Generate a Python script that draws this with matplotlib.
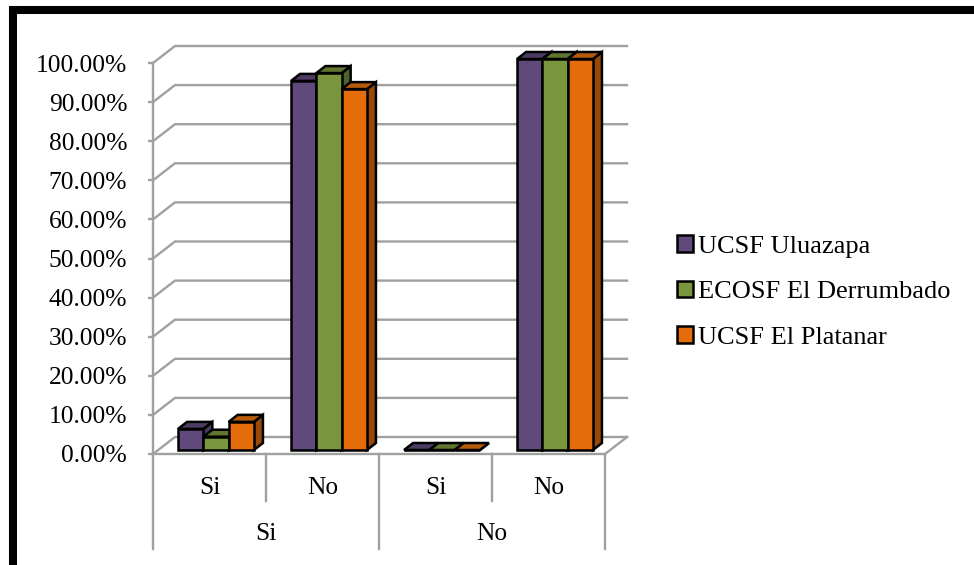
import matplotlib
matplotlib.use('Agg')
import matplotlib.pyplot as plt
from matplotlib.patches import Patch, Polygon, Rectangle

plt.rcParams['font.family'] = ['Liberation Serif', 'DejaVu Sans']

series_names = ['UCSF Uluazapa', 'ECOSF El Derrumbado', 'UCSF El Platanar']
inner_labels = ['Si', 'No', 'Si', 'No']
outer_labels = ['Si', 'No']
uluazapa = [5.4, 94.4, 0.0, 100.0]
derrumbado = [3.4, 96.4, 0.0, 100.0]
platanar = [7.2, 92.3, 0.0, 100.0]
y_ticks = [0, 10, 20, 30, 40, 50, 60, 70, 80, 90, 100]

series_values = [uluazapa, derrumbado, platanar]
front_colors = ['#604A7B', '#7A963C', '#E46C0A']
top_colors = ['#4D3B63', '#5F7530', '#B65A0C']
side_colors = ['#4A3960', '#4F6228', '#984807']
grid_color = '#A0A0A0'
edge_lw = 1.8
grid_lw = 1.7

W, H = 974, 565
fig = plt.figure(figsize=(W / 100, H / 100), dpi=100)
x0, x1, y0, y1 = 153, 605, 454, 63
ax = fig.add_axes([x0 / W, 1 - y0 / H, (x1 - x0) / W, (y0 - y1) / H])
ax.set_xlim(0, 4)
ax.set_ylim(0, 100)

# pixel sizes in data units
px = 4 / (x1 - x0)
py = 100 / (y0 - y1)
wall_dx, wall_dy = 22 * px, 17 * py
bar_dx, bar_dy = 9 * px, 7 * py
bar_w = 25.3 * px
bar_base = 4 * py
bar_shift = 6.5 * px

for t in y_ticks:
    ax.plot([0, wall_dx, 4 + wall_dx], [t, t + wall_dy, t + wall_dy], color=grid_color, lw=grid_lw,
            clip_on=False, zorder=1, solid_joinstyle='miter')
ax.plot([0, 4, 4 + wall_dx], [0, 0, wall_dy], color=grid_color, lw=grid_lw, clip_on=False, zorder=1)

for i in range(4):
    for j, vals in enumerate(series_values):
        v = vals[i]
        x = i + 0.5 + bar_shift + (j - 1) * bar_w
        left, right = x - bar_w / 2, x + bar_w / 2
        top = bar_base + v
        ax.add_patch(Polygon([(right, bar_base), (right + bar_dx, bar_base + bar_dy),
                              (right + bar_dx, top + bar_dy), (right, top)],
                             fc=side_colors[j], ec='black', lw=edge_lw, clip_on=False, zorder=3))
        ax.add_patch(Polygon([(left, top), (left + bar_dx, top + bar_dy),
                              (right + bar_dx, top + bar_dy), (right, top)],
                             fc=top_colors[j], ec='black', lw=edge_lw, clip_on=False, zorder=3))
        ax.bar(x, v, bar_w, bottom=bar_base, color=front_colors[j], edgecolor='black', lw=edge_lw,
               clip_on=False, zorder=3)

for s in ['top', 'right', 'bottom']:
    ax.spines[s].set_visible(False)
ax.spines['left'].set_color(grid_color)
ax.spines['left'].set_linewidth(grid_lw)
ax.set_xticks([])
ax.set_yticks(y_ticks)
ax.set_yticklabels([f'{t:.2f}%' for t in y_ticks], fontsize=18.4)
ax.tick_params(axis='y', length=3.6, width=grid_lw, color=grid_color, pad=15)

# two level category axis
for i, lab in enumerate(inner_labels):
    ax.text(i + 0.5, -34 * py, lab, ha='center', va='center', fontsize=18.4)
    ax.plot([i, i], [0, (-47 if i % 2 else -95) * py], color=grid_color, lw=grid_lw, clip_on=False, zorder=1)
ax.plot([4, 4], [0, -95 * py], color=grid_color, lw=grid_lw, clip_on=False, zorder=1)
for i, lab in enumerate(outer_labels):
    ax.text(2 * i + 1, -80 * py, lab, ha='center', va='center', fontsize=18.4)

handles = [Patch(fc=c, ec='black', lw=edge_lw) for c in front_colors]
fig.legend(handles, series_names, loc='center left', bbox_to_anchor=(677 / W, 1 - 292 / H),
           frameon=False, fontsize=19, handlelength=0.6, handleheight=0.6,
           handletextpad=0.2, labelspacing=0.87, borderpad=0, borderaxespad=0)

# thick frame round the chart, running off the right and bottom edges
fig.add_artist(Rectangle((12.5 / W, 1 - 567 / H), 970 / W, 557 / H, transform=fig.transFigure,
                         fill=False, ec='black', lw=5.8))

fig.savefig('out.png', dpi=100)
